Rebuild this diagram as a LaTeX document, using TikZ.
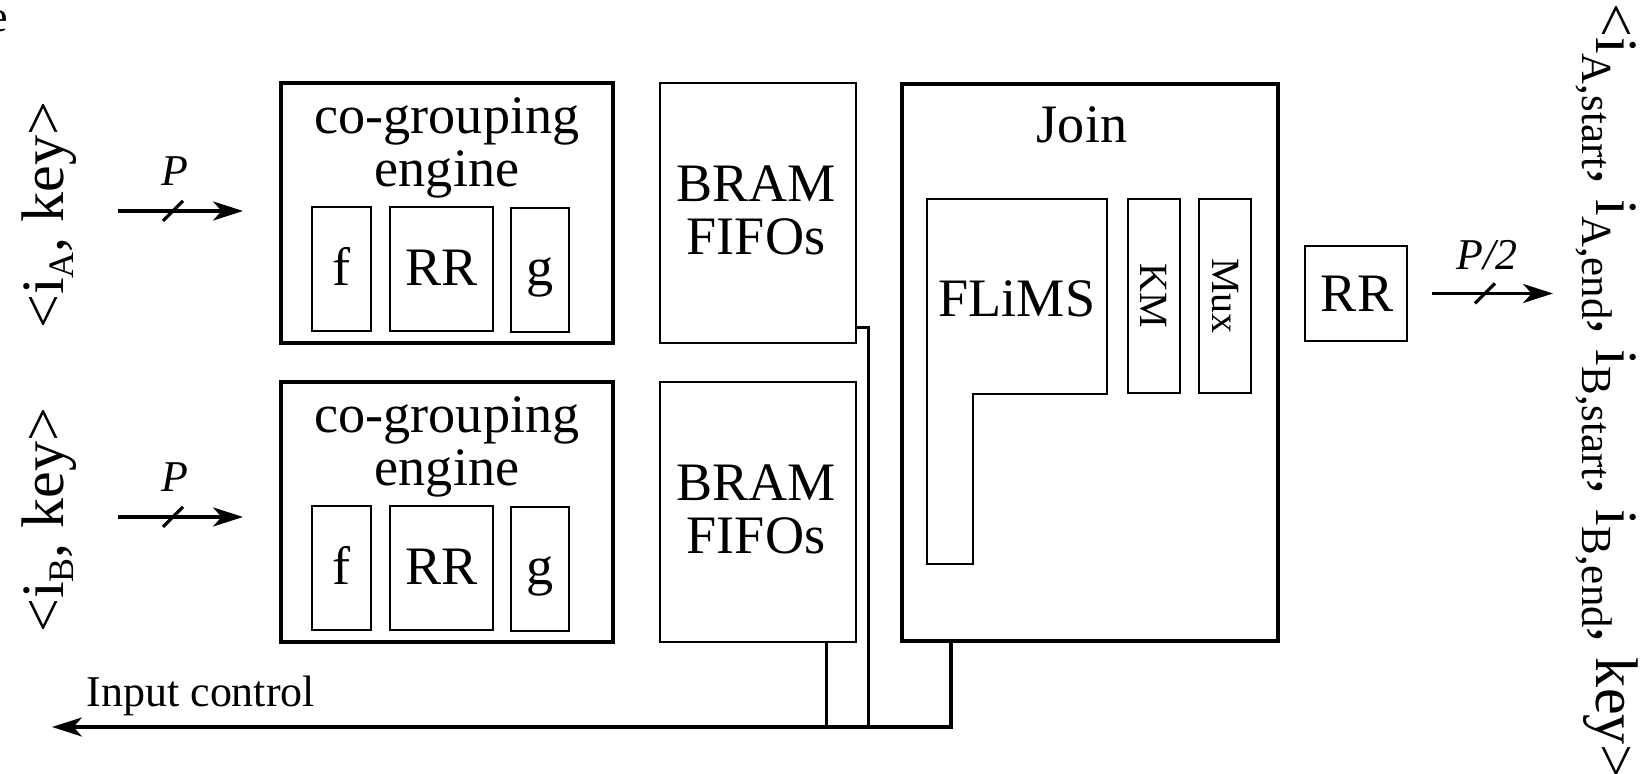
\documentclass[tikz,border=0pt]{standalone}
\usepackage{fontspec}
\setmainfont{Liberation Serif}
\usetikzlibrary{arrows.meta,calc}

\newcommand{\lsub}[1]{\raisebox{-2.8pt}{\fontsize{10.2}{10.2}\selectfont #1}}
\newcommand{\rsub}[1]{\raisebox{-3.7pt}{\fontsize{12.2}{12.2}\selectfont #1}}

\begin{document}
\begin{tikzpicture}[x=0.01cm, y=-0.01cm,
    thickbox/.style={draw, line width=1.1pt, inner sep=0pt},
    midbox/.style={draw, line width=0.7pt, inner sep=0pt},
    thinbox/.style={draw, line width=0.55pt, inner sep=0pt},
    big/.style={font=\fontsize{15.4}{15.2}\selectfont, inner sep=0pt, align=center, anchor=base},
    small/.style={font=\fontsize{12.5}{12.5}\selectfont, inner sep=0pt, anchor=base},
    lbl/.style={font=\fontsize{17.1}{17.1}\selectfont, inner sep=0pt, anchor=base},
    bus/.style={line width=0.9pt},
    arr/.style={bus, -{Stealth[length=8.5pt, width=5.4pt, inset=2.4pt]}}]
    \useasboundingbox (0,0) rectangle (1644,774);

    % cut text at the corner
    \node[small, anchor=base east] (cut) at (9,32) {e};

    % inputs
    \node[lbl, rotate=90] (labA) at (64,215) {<i\lsub{A}, key>};
    \node[lbl, rotate=90] (labB) at (64,520) {<i\lsub{B}, key>};

    % co-grouping engines
    \foreach \yy/\s in {0/A, 299/B}{
        \node[thickbox, minimum width=3.32cm, minimum height=2.6cm] (cg\s) at (447,213+\yy) {};
        \node[big] (cgt\s) at (447,187+\yy) {co-grouping\\engine};
        \node[thinbox, minimum width=0.59cm, minimum height=1.24cm] (f\s) at (341.5,269+\yy) {};
        \node[thinbox, minimum width=1.03cm, minimum height=1.24cm] (rr\s) at (441.5,269+\yy) {};
        \node[thinbox, minimum width=0.58cm, minimum height=1.24cm] (g\s) at (540,270+\yy) {};
        \node[big] (ft\s) at (341.5,286+\yy) {f};
        \node[big] (rrt\s) at (441.5,286+\yy) {RR};
        \node[big] (gt\s) at (540,286+\yy) {g};
        % BRAM
        \node[midbox, minimum width=1.96cm, minimum height=2.6cm] (bram\s) at (758,213+\yy) {};
        \node[big] (bramt\s) at (756,255+\yy) {BRAM\\FIFOs};
    }

    % input arrows
    \coordinate (inA) at (118,211);
    \coordinate (inB) at (118,517);
    \foreach \s/\yy in {A/186, B/492}{
        \draw[arr] (in\s) -- ++(125,0);
        \draw[bus] ($(in\s)+(55,0)$) ++(-10,10) -- ++(20,-20);
        \node[small, font=\fontsize{12.5}{12.5}\selectfont\itshape] (p\s) at (175,\yy) {P};
    }

    % Join
    \node[thickbox, minimum width=3.76cm, minimum height=5.57cm] (join) at (1090,362.5) {};
    \node[big] (joint) at (1082,143) {Join};
    \draw[thinbox] (927,199) -- (1107,199) -- (1107,394) -- (973,394) -- (973,564) -- (927,564) -- cycle;
    \node[big] (flims) at (1017,317) {FLiMS};
    \node[thinbox, minimum width=0.52cm, minimum height=1.94cm] (km) at (1154,296) {};
    \node[thinbox, minimum width=0.52cm, minimum height=1.94cm] (mux) at (1225,296) {};
    \node[font=\fontsize{11.4}{11.4}\selectfont, inner sep=0pt, rotate=-90] (kmt) at (km) {KM};
    \node[font=\fontsize{11.4}{11.4}\selectfont, inner sep=0pt, rotate=-90] (muxt) at (mux) {Mux};

    % output
    \node[thinbox, minimum width=1.02cm, minimum height=0.95cm] (rrOut) at (1356,293.5) {};
    \node[big] (rrOutt) at (1357,312) {RR};
    \draw[arr] ([xshift=0.24cm]rrOut.east) -- ++(121,0);
    \draw[bus] ($(rrOut.east)+(77,0)$) ++(-10,10) -- ++(20,-20);
    \node[small, font=\fontsize{12.5}{12.5}\selectfont\itshape] (p2) at (1487,270) {P/2};
    \node[lbl, rotate=-90] (labOut) at (1596,391)
        {<i\rsub{A,start}, i\rsub{A,end}, i\rsub{B,start}, i\rsub{B,end}, key>};

    % input control
    \coordinate (icEnd) at (52,727);
    \draw[arr] ([xshift=0.51cm]join.south west) |- (icEnd);
    \draw[bus] ([xshift=1.68cm]bramB.south west) -- ++(0,85);
    \draw[bus] ([yshift=0.17cm]bramA.south east) -- ++(11,0) -- ++(0,401);
    \node[small, anchor=base west] (ic) at (86,707) {Input control};
\end{tikzpicture}
\end{document}
